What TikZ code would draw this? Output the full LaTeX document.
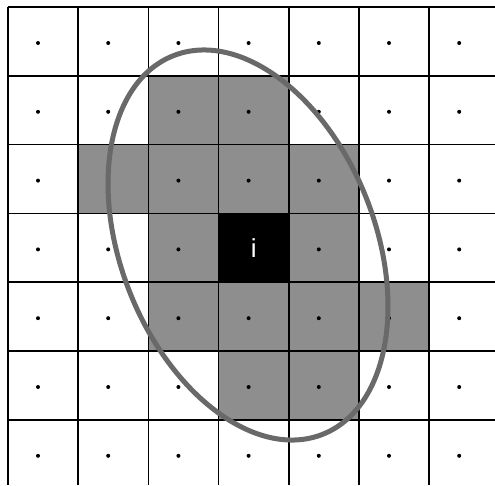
\documentclass[tikz,border=0pt]{standalone}
\usepackage{fontspec}
\setmainfont{Liberation Sans}
\definecolor{cellgray}{RGB}{142,142,142}
\definecolor{ringgray}{RGB}{105,105,105}
\tikzset{
  gridline/.style={line width=1.7pt, black},
  graycell/.style={fill=cellgray},
  centerdot/.style={fill=black},
  ring/.style={draw=ringgray, line width=5pt},
  focus/.style={fill=black, text=white, inner sep=0pt, minimum width=70.2pt, minimum height=68.8pt, font=\fontsize{26}{26}\selectfont}
}
\begin{document}
\begin{tikzpicture}[x=1pt,y=1pt]
\useasboundingbox (0,0) rectangle (495,-485);
\fill[white] (0,0) rectangle (495,-485);
% gray cells (col,row)
\foreach \c/\r in {2/1,3/1,1/2,2/2,3/2,4/2,2/3,4/3,2/4,3/4,4/4,5/4,3/5,4/5}{
  \fill[graycell] ({8+70.2*\c-0.5},{-(7+68.8*\r)+0.5}) rectangle ({8+70.2*(\c+1)+1},{-(7+68.8*(\r+1))-1});
}
% grid
\foreach \k in {0,...,6}{
  \draw[gridline] ({8+70.2*\k},-7) -- ({8+70.2*\k},-485);
  \draw[gridline] (8,{-(7+68.8*\k)}) -- (495,{-(7+68.8*\k)});
}
% dots
\foreach \c in {0,...,6}{
  \foreach \r in {0,...,6}{
    \fill[centerdot] ({38+70.2*\c},{-(43+68.8*\r)}) circle (2);
  }
}
% focus cell
\node[focus] (i) at ({8+70.2*3.5},{-(7+68.8*3.5)}) {\raisebox{-2pt}{i}};
% ellipse
\draw[ring, rotate around={-68.5:(248,-245)}] (248,-245) ellipse [x radius=203.5, y radius=127.3];
\end{tikzpicture}
\end{document}
